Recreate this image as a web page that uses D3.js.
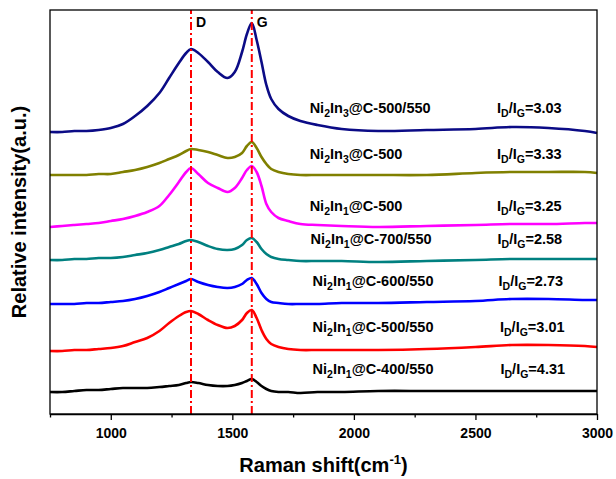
<!DOCTYPE html>
<html>
<head>
<meta charset="utf-8">
<script src="https://cdn.jsdelivr.net/npm/d3@7"></script>
<style>
  html, body { margin: 0; padding: 0; background: #fff; }
  svg { display: block; }
  text { font-family: "Liberation Sans", Arial, sans-serif; font-weight: bold; }
</style>
</head>
<body>
<div id="chart"></div>
<script>
// Raman shift sample positions (cm-1)
const ramanShift = [750, 800, 850, 900, 950, 1000, 1050, 1100, 1150, 1200, 1240, 1280, 1310, 1330, 1360, 1400, 1440, 1480, 1510, 1540, 1560, 1580, 1600, 1620, 1640, 1660, 1690, 1730, 1780, 1850, 1950, 2100, 2300, 2500, 2650, 2800, 2950, 3000];

// Stacked relative intensities (a.u.)
const ni2in3_500_550 = [282,282,283,283,284,286,290,298,308,321,336,351,361,365,361,352,342,336,342,362,380,391,374,352,329,315,305,298,293,289,285,283,284,285,287,286,283,281];
const ni2in3_500     = [239,239,239,239,240,240,242,244,247,251,255,259,263,265,264,262,259,256,257,261,268,272,266,257,250,245,242,240,239,239,239,239,239,241,242,242,242,241];
const ni2in1_500     = [187,188,189,190,191,193,195,198,202,208,219,232,242,246,240,231,226,222,226,236,244,248,242,228,210,202,196,193,190,189,188,187,188,189,190,190,191,191];
const ni2in1_700_550 = [154,154,155,155,156,156,157,159,161,164,167,170,173,174,172,168,165,164,165,169,174,176,172,165,160,157,155,154,153,153,153,152,153,154,155,155,155,155];
const ni2in1_600_550 = [110,110,110,111,111,112,113,115,118,122,126,130,133,135,132,129,127,126,127,130,134,136,130,121,115,112,111,110,110,110,111,111,112,113,115,115,114,114];
const ni2in1_500_550 = [63,63,64,64,65,66,68,72,76,83,91,98,102,103,100,94,89,86,88,94,101,104,96,84,75,70,67,65,64,64,64,64,65,67,69,69,68,67];
const ni2in1_400_550 = [22,22,23,24,24,25,26,26,26,27,28,29,31,32,31,29,28,28,29,31,33,35,32,28,25,23,22,22,21,22,22,23,23,23,23,23,23,23];

// Sample names: [base, sub1, mid, sub2, suffix]
const sampleNames = [
  ["Ni", "2", "In", "3", "@C-500/550"],
  ["Ni", "2", "In", "3", "@C-500"],
  ["Ni", "2", "In", "1", "@C-500"],
  ["Ni", "2", "In", "1", "@C-700/550"],
  ["Ni", "2", "In", "1", "@C-600/550"],
  ["Ni", "2", "In", "1", "@C-500/550"],
  ["Ni", "2", "In", "1", "@C-400/550"]
];
const ratios = ["3.03", "3.33", "3.25", "2.58", "2.73", "3.01", "4.31"];
const seriesValues = [ni2in3_500_550, ni2in3_500, ni2in1_500, ni2in1_700_550, ni2in1_600_550, ni2in1_500_550, ni2in1_400_550];
const colors = ["#0b0b86", "#808000", "#ff00ff", "#008080", "#0000ff", "#ff0000", "#000000"];

// label anchor positions, in data units (x in cm-1, y intensity)
const labelX = [1818, 1818, 1818, 1822, 1830, 1830, 1830];
const ratioX = [2589, 2589, 2589, 2591, 2595, 2601, 2603];
const labelY = [301, 255, 203, 170, 128, 82, 40];

const bandPositions = [1330, 1580];
const bandNames = ["D", "G"];

const xTicks = [750, 1000, 1250, 1500, 1750, 2000, 2250, 2500, 2750, 3000];

const W = 616, H = 479;
const margin = { left: 50, right: 19, top: 10, bottom: 65 };

const svg = d3.select("#chart").append("svg")
  .attr("width", W).attr("height", H);

const x = d3.scaleLinear().domain([750, 3000]).range([margin.left, W - margin.right]);
const y = d3.scaleLinear().domain([0, 404]).range([H - margin.bottom, margin.top]);

const line = d3.line()
  .x((d, i) => x(ramanShift[i]))
  .y(d => y(d))
  .curve(d3.curveCatmullRom.alpha(0.5));

seriesValues.forEach((vals, k) => {
  svg.append("path")
    .attr("d", line(vals))
    .attr("fill", "none")
    .attr("stroke", colors[k])
    .attr("stroke-width", 2.6)
    .attr("stroke-linejoin", "round");
});

// band lines
bandPositions.forEach((b, i) => {
  svg.append("line")
    .attr("x1", x(b)).attr("x2", x(b))
    .attr("y1", y(0)).attr("y2", y(404))
    .attr("stroke", "#ff0000").attr("stroke-width", 2)
    .attr("stroke-dasharray", "8,3,2,3");
  svg.append("text")
    .attr("x", x(b) + 5).attr("y", y(404) + 17)
    .attr("font-size", 14)
    .text(bandNames[i]);
});

// sample labels
sampleNames.forEach((n, k) => {
  const t = svg.append("text")
    .attr("x", x(labelX[k])).attr("y", y(labelY[k]))
    .attr("font-size", 14.5);
  t.append("tspan").text(n[0]);
  t.append("tspan").attr("font-size", 10.5).attr("dy", 4).text(n[1]);
  t.append("tspan").attr("dy", -4).text(n[2]);
  t.append("tspan").attr("font-size", 10.5).attr("dy", 4).text(n[3]);
  t.append("tspan").attr("dy", -4).text(n[4]);

  const r = svg.append("text")
    .attr("x", x(ratioX[k])).attr("y", y(labelY[k]))
    .attr("font-size", 14.5);
  r.append("tspan").text("I");
  r.append("tspan").attr("font-size", 10.5).attr("dy", 4).text("D");
  r.append("tspan").attr("dy", -4).text("/I");
  r.append("tspan").attr("font-size", 10.5).attr("dy", 4).text("G");
  r.append("tspan").attr("dy", -4).text("=" + ratios[k]);
});

// frame
svg.append("rect")
  .attr("x", margin.left).attr("y", margin.top)
  .attr("width", W - margin.left - margin.right)
  .attr("height", H - margin.top - margin.bottom)
  .attr("fill", "none").attr("stroke", "#000").attr("stroke-width", 1.3);

// x axis
const xAxis = d3.axisBottom(x)
  .tickValues(xTicks)
  .tickSizeInner(0).tickSizeOuter(0)
  .tickFormat(d => (d % 500 === 0 && d !== 750) ? d : "");
const gx = svg.append("g")
  .attr("transform", `translate(0,${y(0)})`)
  .call(xAxis);
gx.select(".domain").attr("stroke-width", 1.3);
gx.selectAll(".tick line")
  .attr("y2", d => (d % 500 === 0) ? 6 : 3.5)
  .attr("stroke-width", 1.3);
gx.selectAll(".tick text")
  .attr("y", 14)
  .attr("font-size", 14)
  .attr("font-family", "Liberation Sans, Arial, sans-serif")
  .attr("font-weight", "bold")
  .attr("fill", "#000");

// axis titles
const xt = svg.append("text")
  .attr("x", (margin.left + W - margin.right) / 2)
  .attr("y", 472)
  .attr("text-anchor", "middle")
  .attr("font-size", 20);
xt.append("tspan").text("Raman shift(cm");
xt.append("tspan").attr("font-size", 13).attr("dy", -8).text("-1");
xt.append("tspan").attr("dy", 8).text(")");

svg.append("text")
  .attr("transform", `translate(26,${(margin.top + H - margin.bottom) / 2}) rotate(-90)`)
  .attr("text-anchor", "middle")
  .attr("font-size", 20)
  .text("Relative intensity(a.u.)");
</script>
</body>
</html>
